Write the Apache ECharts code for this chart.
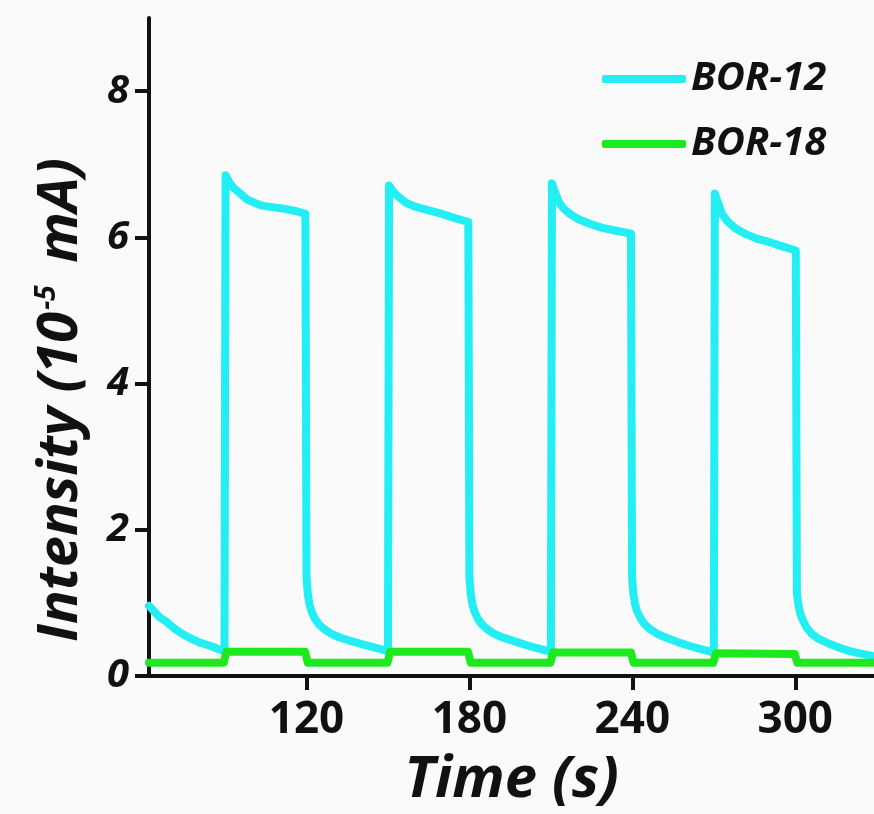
<!DOCTYPE html>
<html>
<head>
<meta charset="utf-8">
<script src="https://cdn.jsdelivr.net/npm/echarts@6/dist/echarts.min.js"></script>
<style>
html,body{margin:0;padding:0;background:#fafafa;}
#chart{width:874px;height:814px;}
</style>
</head>
<body>
<div id="chart"></div>
<script>
// Time (s), Intensity (10^-5 mA)
const seriesNames = ['BOR-12', 'BOR-18'];
const xTickValues = [120, 180, 240, 300];
const yTickValues = [0, 2, 4, 6, 8];

const bor12 = [
  [62,0.96],[64,0.88],[66,0.80],[68.5,0.74],[71,0.66],[74,0.58],[77,0.52],[80.5,0.46],[83,0.43],[85.5,0.40],[88,0.36],[89.8,0.34],
  [90.2,6.85],
  [91.5,6.76],[93,6.68],[95,6.62],[98,6.52],[101,6.47],[104,6.43],[108,6.41],[112,6.39],[116,6.36],[119.6,6.32],
  [120,1.35],[120.5,1.12],[121.1,0.98],[121.9,0.88],[123,0.79],[124.5,0.71],[126.5,0.64],[129,0.58],[132,0.53],[137,0.47],[142,0.42],[147,0.37],[150,0.34],
  [150.4,6.71],
  [152,6.62],[154,6.55],[156.8,6.47],[160,6.42],[165,6.37],[170,6.32],[175,6.26],[179.6,6.21],
  [180,1.35],[180.5,1.12],[181.1,0.98],[181.9,0.88],[183,0.79],[184.5,0.71],[186.5,0.64],[189,0.58],[192,0.53],[197,0.47],[202,0.41],[207,0.36],[210,0.33],
  [210.4,6.74],
  [211.5,6.62],[213,6.48],[214.5,6.40],[217,6.32],[220,6.25],[224,6.19],[229,6.13],[234,6.09],[239.5,6.05],
  [239.9,1.35],[240.4,1.12],[241,0.98],[241.8,0.88],[243,0.79],[244.5,0.71],[246.5,0.64],[249,0.58],[252,0.53],[257,0.46],[262,0.40],[267,0.35],[270,0.32],
  [270.4,6.60],
  [271.5,6.48],[273,6.32],[275,6.22],[278,6.12],[282,6.04],[286,5.98],[290,5.94],[295,5.88],[300.2,5.82],
  [300.6,1.15],[301.1,0.98],[301.8,0.86],[302.8,0.76],[304.2,0.66],[306,0.58],[308.5,0.51],[312,0.45],[316,0.39],[320,0.34],[325,0.30],[329,0.27]
];

const bor18 = [
  [62,0.18],[89.5,0.18],[90.5,0.33],[119.5,0.33],[120.5,0.18],[149.8,0.18],[150.8,0.33],[179.5,0.33],[180.5,0.18],
  [209.8,0.18],[210.8,0.32],[239.5,0.32],[240.5,0.18],[269.8,0.18],[270.8,0.31],[299.8,0.30],[300.8,0.18],[329,0.18]
];

const colors = ['#22eef4', '#1ee81e'];
const FONT = 'Open Sans';

const chart = echarts.init(document.getElementById('chart'), null, {renderer:'canvas'});
chart.setOption({
  animation: false,
  backgroundColor: '#fafafa',
  grid: {left: 149, right: 0, top: 18, bottom: 137},
  legend: {
    orient: 'vertical',
    left: 597,
    top: 54,
    itemWidth: 84,
    itemHeight: 8,
    itemGap: 25,
    icon: 'roundRect',
    data: seriesNames,
    textStyle: {fontFamily: FONT, fontSize: 40, fontWeight: 'bold', fontStyle: 'italic', color: '#111', lineHeight: 40}
  },
  xAxis: {
    type: 'value',
    min: 62,
    max: 329,
    name: 'Time (s)',
    nameLocation: 'middle',
    nameGap: 75,
    nameTextStyle: {fontFamily: FONT, fontSize: 58, fontWeight: 'bold', fontStyle: 'italic', color: '#111'},
    axisLine: {show: true, onZero: false, lineStyle: {color: '#111', width: 4}},
    axisTick: {show: true, customValues: xTickValues, length: 14, inside: false, lineStyle: {color: '#111', width: 4}},
    axisLabel: {customValues: xTickValues, margin: 22, fontFamily: FONT, fontSize: 44, fontWeight: 'bold', color: '#111'},
    splitLine: {show: false}
  },
  yAxis: {
    type: 'value',
    min: 0,
    max: 9,
    name: 'Intensity (10{sup|-5} mA)',
    nameLocation: 'middle',
    nameGap: 60,
    nameRotate: 90,
    nameTextStyle: {
      fontFamily: FONT, fontSize: 56, fontWeight: 'bold', fontStyle: 'italic', color: '#111',
      padding: [0, 106, 0, 0],
      rich: {sup: {fontFamily: FONT, fontSize: 28, fontWeight: 'bold', fontStyle: 'italic', color: '#111', verticalAlign: 'top', padding: [0, 8, 26, 2]}}
    },
    axisLine: {show: true, lineStyle: {color: '#111', width: 4}},
    axisTick: {show: true, customValues: yTickValues, length: 14, inside: false, lineStyle: {color: '#111', width: 4}},
    axisLabel: {customValues: yTickValues, margin: 20, fontFamily: FONT, fontSize: 40, fontWeight: 'bold', fontStyle: 'italic', color: '#111'},
    splitLine: {show: false}
  },
  series: [
    {name: seriesNames[0], type: 'line', data: bor12, showSymbol: false, symbol: 'none', color: colors[0],
     lineStyle: {width: 8, color: colors[0], cap: 'round', join: 'round'}, z: 2},
    {name: seriesNames[1], type: 'line', data: bor18, showSymbol: false, symbol: 'none', color: colors[1],
     lineStyle: {width: 8, color: colors[1], cap: 'round', join: 'round'}, z: 3}
  ]
});
</script>
</body>
</html>
